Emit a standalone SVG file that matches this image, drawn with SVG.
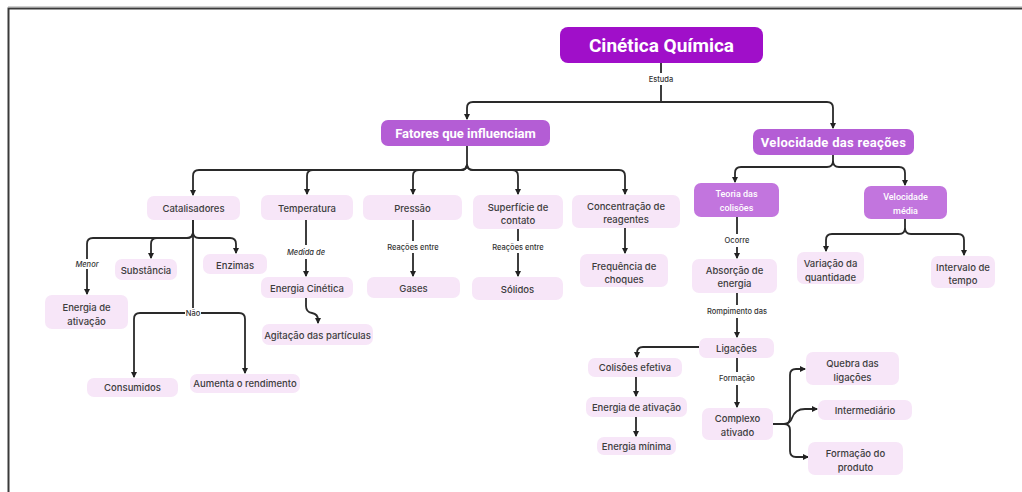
<svg xmlns="http://www.w3.org/2000/svg" width="1022" height="492" viewBox="0 0 1022 492">
<defs>
<marker id="ah" viewBox="0 0 6 6" refX="5" refY="3" markerWidth="6" markerHeight="6" markerUnits="userSpaceOnUse" orient="auto">
<path d="M0,0 L6,3 L0,6 z" fill="#222"/>
</marker>
<style>
.frame{fill:none;stroke:#3a3a3a;stroke-width:2}
.c{fill:none;stroke:#2a2a2a;stroke-width:1.8;stroke-linejoin:round}
.a{marker-end:url(#ah)}
.n{fill:#f7e6f8}
.t{font-family:Inter,"Noto Sans",sans-serif;font-size:9.5px;font-weight:500;fill:#3d3d3d;text-anchor:middle;dominant-baseline:central}
.l{font-family:Inter,"Noto Sans",sans-serif;font-size:7.5px;font-weight:500;fill:#333;text-anchor:middle;dominant-baseline:central}
.li{font-style:italic}
.h1{fill:#a00fc9}
.h2{fill:#b45dd5}
.h3{fill:#c275de}
.ht{font-family:Roboto,"Noto Sans",sans-serif;font-weight:bold;fill:#fff;text-anchor:middle;dominant-baseline:central}
.hs{font-weight:500}
</style>
</defs>
<rect width="1022" height="492" fill="#fff"/>
<line x1="8" y1="6.5" x2="1022" y2="6.5" stroke="#d0d0d0" stroke-width="1"/>
<path class="frame" d="M8.5,492 V8.5 H1022"/>

<g id="connectors">
<path class="c" d="M661,63 V73 M661,85 V102 H473 Q467,102 467,108 V119" marker-end="url(#ah)"/>
<path class="c a" d="M661,102 H827 Q833,102 833,108 V128"/>
<path class="c a" d="M467,146 V164 Q467,170 461,170 H199 Q193,170 193,176 V195"/>
<path class="c a" d="M467,164 Q467,170 461,170 H313 Q307,170 307,176 V194"/>
<path class="c a" d="M467,164 Q467,170 461,170 H419 Q413,170 413,176 V194"/>
<path class="c a" d="M467,164 Q467,170 473,170 H512 Q518,170 518,176 V194"/>
<path class="c a" d="M467,164 Q467,170 473,170 H619 Q625,170 625,176 V194"/>
<path class="c a" d="M193,220 V232 Q193,238 187,238 H93 Q87,238 87,244 V259 M87,269 V294"/>
<path class="c a" d="M193,232 Q193,238 187,238 H157 Q151,238 151,244 V258"/>
<path class="c a" d="M193,232 Q193,238 199,238 H230 Q236,238 236,244 V253"/>
<path class="c" d="M193,220 V308"/>
<path class="c a" d="M185,313 H140 Q134,313 134,319 V377"/>
<path class="c a" d="M201,313 H239 Q245,313 245,319 V373"/>
<path class="c a" d="M306,220 V245 M306,259 V276"/>
<path class="c a" d="M306,298 V306 Q306,312 312,313 Q318,314 318,320 V323"/>
<path class="c a" d="M413,220 V241 M413,253 V276"/>
<path class="c a" d="M518,229 V241 M518,253 V276"/>
<path class="c a" d="M625,228 V253"/>
<path class="c a" d="M833,155 V161 Q833,167 827,167 H741 Q735,167 735,173 V182"/>
<path class="c a" d="M833,161 Q833,167 839,167 H899 Q905,167 905,173 V185"/>
<path class="c a" d="M737,217 V234 M737,247 V258"/>
<path class="c a" d="M905,219 V228 Q905,234 899,234 H832 Q826,234 826,240 V251"/>
<path class="c a" d="M905,228 Q905,234 911,234 H958 Q964,234 964,240 V255"/>
<path class="c a" d="M737,293 V305 M737,318 V337"/>
<path class="c a" d="M699,347 H643 Q637,347 637,353 V357"/>
<path class="c a" d="M636,377 V396"/>
<path class="c a" d="M636,417 V436"/>
<path class="c a" d="M737,358 V372 M737,385 V407"/>
<path class="c a" d="M773,424 H784 Q790,424 790,418 V375 Q790,369 796,369 H805"/>
<path class="c a" d="M784,424 Q790,424 792,418 Q795,409 805,409 H817"/>
<path class="c a" d="M784,424 Q790,424 790,430 V451 Q790,457 796,457 H808"/>
<text class="l" x="661" y="79">Estuda</text>
<text class="l li" x="87" y="264">Menor</text>
<text class="l" x="193" y="313">Não</text>
<text class="l li" x="306" y="252">Medida de</text>
<text class="l" x="413" y="247">Reações entre</text>
<text class="l" x="518" y="247">Reações entre</text>
<text class="l" x="737" y="240">Ocorre</text>
<text class="l" x="737" y="311">Rompimento das</text>
<text class="l" x="737" y="378">Formação</text>
</g>

<g id="cinetica"><rect class="h1" x="560" y="27" width="203" height="36" rx="8"/><text class="ht" x="661.5" y="45" font-size="19">Cinética Química</text></g>
<g id="fatores"><rect class="h2" x="381" y="120" width="169" height="26" rx="7"/><text class="ht" x="465.5" y="133" font-size="13">Fatores que influenciam</text></g>
<g id="velocidade"><rect class="h2" x="753" y="129" width="161" height="26" rx="7"/><text class="ht" x="833.5" y="142" font-size="13" letter-spacing="0.3">Velocidade das reações</text></g>

<g id="catalisadores"><rect class="n" x="147" y="196" width="93" height="24" rx="7"/><text class="t" x="193.5" y="208">Catalisadores</text></g>
<g id="temperatura"><rect class="n" x="261" y="195" width="92" height="25" rx="7"/><text class="t" x="307" y="208">Temperatura</text></g>
<g id="pressao"><rect class="n" x="363" y="195" width="99" height="25" rx="7"/><text class="t" x="412.5" y="208">Pressão</text></g>
<g id="superficie"><rect class="n" x="473" y="195" width="90" height="34" rx="7"/><text class="t" x="518" y="207">Superfície de</text><text class="t" x="518" y="220">contato</text></g>
<g id="concentracao"><rect class="n" x="572" y="195" width="108" height="33" rx="7"/><text class="t" x="626" y="206">Concentração de</text><text class="t" x="626" y="219">reagentes</text></g>

<g id="substancia"><rect class="n" x="115" y="259" width="62" height="21" rx="7"/><text class="t" x="146" y="270">Substância</text></g>
<g id="enzimas"><rect class="n" x="203" y="254" width="64" height="20" rx="7"/><text class="t" x="235" y="265">Enzimas</text></g>
<g id="energia-ativacao-1"><rect class="n" x="45" y="295" width="83" height="34" rx="7"/><text class="t" x="86.5" y="307">Energia de</text><text class="t" x="86.5" y="321">ativação</text></g>
<g id="consumidos"><rect class="n" x="87" y="378" width="91" height="19" rx="7"/><text class="t" x="132.5" y="387.5">Consumidos</text></g>
<g id="aumenta"><rect class="n" x="190" y="374" width="110" height="19" rx="7"/><text class="t" x="245" y="383.5">Aumenta o rendimento</text></g>

<g id="energia-cinetica"><rect class="n" x="261" y="277" width="92" height="21" rx="7"/><text class="t" x="307" y="288">Energia Cinética</text></g>
<g id="agitacao"><rect class="n" x="262" y="324" width="111" height="21" rx="7"/><text class="t" x="317.5" y="335">Agitação das partículas</text></g>
<g id="gases"><rect class="n" x="367" y="277" width="93" height="21" rx="7"/><text class="t" x="413.5" y="288">Gases</text></g>
<g id="solidos"><rect class="n" x="472" y="277" width="91" height="23" rx="7"/><text class="t" x="517.5" y="289">Sólidos</text></g>
<g id="frequencia"><rect class="n" x="580" y="254" width="88" height="33" rx="7"/><text class="t" x="624" y="266">Frequência de</text><text class="t" x="624" y="279">choques</text></g>

<g id="teoria"><rect class="h3" x="694" y="183" width="85" height="34" rx="7"/><text class="ht hs" x="736.5" y="194" font-size="9">Teoria das</text><text class="ht hs" x="736.5" y="208" font-size="9">colisões</text></g>
<g id="velocidade-media"><rect class="h3" x="864" y="186" width="83" height="33" rx="7"/><text class="ht hs" x="905.5" y="197" font-size="9">Velocidade</text><text class="ht hs" x="905.5" y="211" font-size="9">média</text></g>
<g id="absorcao"><rect class="n" x="692" y="259" width="85" height="34" rx="7"/><text class="t" x="734.5" y="270">Absorção de</text><text class="t" x="734.5" y="283">energia</text></g>
<g id="variacao"><rect class="n" x="797" y="252" width="67" height="32" rx="7"/><text class="t" x="830.5" y="263">Variação da</text><text class="t" x="830.5" y="277">quantidade</text></g>
<g id="intervalo"><rect class="n" x="931" y="256" width="64" height="32" rx="7"/><text class="t" x="963" y="267">Intervalo de</text><text class="t" x="963" y="280">tempo</text></g>
<g id="ligacoes"><rect class="n" x="699" y="338" width="75" height="20" rx="7"/><text class="t" x="736.5" y="348">Ligações</text></g>
<g id="colisoes-efetiva"><rect class="n" x="588" y="358" width="94" height="19" rx="7"/><text class="t" x="635" y="367.5">Colisões efetiva</text></g>
<g id="energia-ativacao-2"><rect class="n" x="586" y="397" width="101" height="20" rx="7"/><text class="t" x="636.5" y="407">Energia de ativação</text></g>
<g id="energia-minima"><rect class="n" x="597" y="437" width="79" height="18" rx="7"/><text class="t" x="636.5" y="446">Energia mínima</text></g>
<g id="complexo"><rect class="n" x="702" y="408" width="71" height="32" rx="7"/><text class="t" x="737.5" y="418">Complexo</text><text class="t" x="737.5" y="432">ativado</text></g>
<g id="quebra"><rect class="n" x="806" y="352" width="93" height="33" rx="7"/><text class="t" x="852.5" y="363">Quebra das</text><text class="t" x="852.5" y="377">ligações</text></g>
<g id="intermediario"><rect class="n" x="818" y="400" width="94" height="20" rx="7"/><text class="t" x="865" y="410">Intermediário</text></g>
<g id="formacao"><rect class="n" x="808" y="442" width="95" height="33" rx="7"/><text class="t" x="855.5" y="453">Formação do</text><text class="t" x="855.5" y="467">produto</text></g>
</svg>
